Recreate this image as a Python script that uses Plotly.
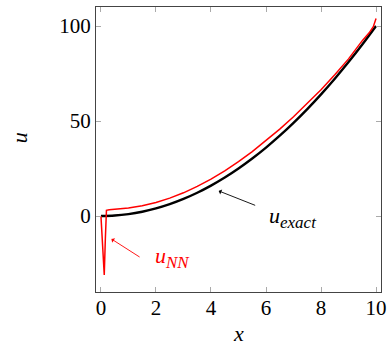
import plotly.graph_objects as go

# exact solution u = x^2
x_exact = [0, 0.5, 1, 1.5, 2, 2.5, 3, 3.5, 4, 4.5, 5, 5.5, 6, 6.5, 7, 7.5, 8, 8.5, 9, 9.5, 10]
u_exact = [0, 0.25, 1, 2.25, 4, 6.25, 9, 12.25, 16, 20.25, 25, 30.25, 36, 42.25, 49,
           56.25, 64, 72.25, 81, 90.25, 100]

# network prediction (red curve)
x_nn = [0, 0.06, 0.12, 0.16, 0.2, 0.3, 0.5, 1, 1.5, 2, 2.5, 3, 3.5, 4, 4.5, 5, 5.5, 6,
        6.5, 7, 7.5, 8, 8.5, 9, 9.5, 9.75, 9.9, 10]
u_nn = [0, -16, -31, -12, 3, 3.3, 3.5, 4.2, 5.4, 7.1, 9.4, 12.2, 15.6, 19.4, 23.8, 28.6,
        33.9, 39.6, 45.7, 52.2, 59.1, 66.4, 74.3, 82.7, 92.3, 96.4, 99.6, 104]

xticks = [0, 2, 4, 6, 8, 10]
yticks = [0, 50, 100]

serif = "Liberation Serif"
sub = "<sub><span style='font-size:17px'><i>%s</i></span></sub>"

fig = go.Figure()
fig.add_trace(go.Scatter(x=x_exact, y=u_exact, mode="lines",
                         line=dict(color="black", width=2.4, shape="spline")))
fig.add_trace(go.Scatter(x=x_nn, y=u_nn, mode="lines",
                         line=dict(color="red", width=1.5)))

# pointer arrows + labels
fig.add_annotation(x=4.28, y=13.2, ax=5.66, ay=5.3, xref="x", yref="y", axref="x", ayref="y",
                   text="", showarrow=True, arrowhead=1, arrowwidth=0.9, arrowcolor="black")
fig.add_annotation(x=6.97, y=-1, text="<i>u</i>" + sub % "exact", showarrow=False,
                   font=dict(family=serif, size=22, color="black"))
fig.add_annotation(x=0.38, y=-12.1, ax=1.46, ay=-22.1, xref="x", yref="y", axref="x", ayref="y",
                   text="", showarrow=True, arrowhead=1, arrowwidth=0.9, arrowcolor="red")
fig.add_annotation(x=2.6, y=-21.6, text="<i>u</i>" + sub % "NN", showarrow=False,
                   font=dict(family=serif, size=22, color="red"))

# axis titles
fig.add_annotation(x=0.5, y=-0.147, xref="paper", yref="paper", text="<i>x</i>",
                   xanchor="center", yanchor="middle",
                   showarrow=False, font=dict(family=serif, size=22, color="black"))
fig.add_annotation(x=-0.27, y=0.54, xref="paper", yref="paper", text="<i>u</i>", textangle=-90,
                   xanchor="center", yanchor="middle",
                   showarrow=False, font=dict(family=serif, size=22, color="black"))

axis_style = dict(showline=True, linecolor="#444", linewidth=1, mirror="ticks",
                  ticks="inside", ticklen=5, tickcolor="#aaa", showgrid=False, zeroline=False,
                  automargin=False, tickfont=dict(family=serif, size=21, color="black"))

fig.update_xaxes(range=[-0.18, 10.18], tickvals=xticks, ticklabelstandoff=-3, **axis_style)
fig.update_yaxes(range=[-40, 110], tickvals=yticks, **axis_style)

fig.update_layout(width=388, height=348, showlegend=False,
                  margin=dict(l=96, r=7, t=7, b=56),
                  plot_bgcolor="white", paper_bgcolor="white")

# page body has a default 8px margin, drop it so the figure sits at the corner
fig.write_html("out.html", config={"displayModeBar": False},
               post_script="document.body.style.margin='0';")
